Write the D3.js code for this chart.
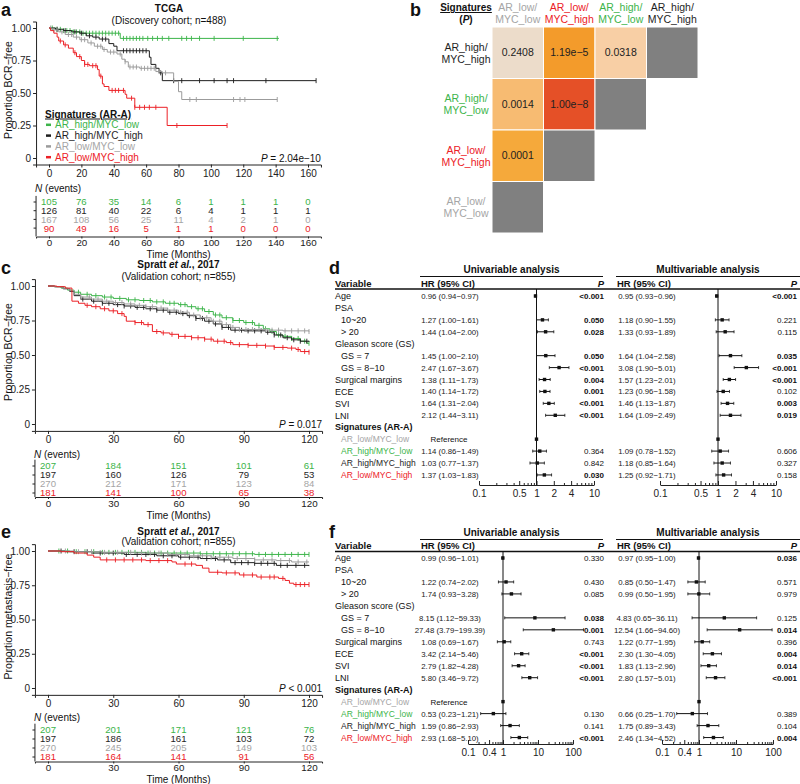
<!DOCTYPE html>
<html><head><meta charset="utf-8">
<script src="https://cdn.jsdelivr.net/npm/d3@7"></script>
<style>body{margin:0;background:#fff} svg{font-family:"Liberation Sans",Arial,Helvetica,sans-serif}</style>
</head><body><svg id="chart" width="800" height="784"></svg>
<script>
// ---------------- DATA ----------------
const kmGroups = ["AR_high/MYC_low","AR_high/MYC_high","AR_low/MYC_low","AR_low/MYC_high"];
const grpColor = {"AR_high/MYC_low":"#3cb44a","AR_high/MYC_high":"#1e1e1e","AR_low/MYC_low":"#9b9b9b","AR_low/MYC_high":"#ec2026"};
const grpText = {"AR_high/MYC_low":"#3cb44a","AR_high/MYC_high":"#1e1e1e","AR_low/MYC_low":"#a5a5a5","AR_low/MYC_high":"#ec2026"};

// Panel a (TCGA) step curves [month, survival]
const aTicks = [0,20,40,60,80,100,120,140,160];
const aGreen = [[0,1],[4,0.99],[9,0.98],[15,0.97],[20,0.96],[44,0.92],[142,0.92]];
const aBlack = [[0,1],[4,0.99],[9,0.98],[14,0.97],[19,0.96],[23,0.94],[27,0.93],[31,0.915],[37,0.88],[40,0.86],[42,0.825],[62,0.775],[63,0.72],[66,0.69],[68,0.655],[70,0.595],[165,0.595]];
const aGray = [[0,1],[2,0.985],[6,0.97],[10,0.95],[15,0.93],[19,0.91],[24,0.885],[28,0.86],[33,0.835],[36,0.815],[42,0.80],[45,0.76],[47,0.74],[49,0.70],[56,0.69],[66,0.665],[70,0.655],[77,0.59],[80,0.51],[82,0.45],[141,0.45]];
const aRed = [[0,1],[1,0.98],[3,0.96],[5,0.93],[6,0.90],[9,0.87],[12,0.845],[15,0.81],[17,0.78],[20,0.75],[22,0.72],[25,0.71],[30,0.68],[31,0.63],[33,0.57],[34,0.55],[37,0.52],[47,0.49],[48,0.46],[53,0.39],[73,0.25],[110,0.25]];
const aGreenC = [2,5,7,9,11,13,15,17,19,21,23,25,27,29,31,33,35,37,39,41,43,46,48,50,52,54,56,58,61,64,67,70,74,82,85,88,93,102,120,141];
const aBlackC = [5,10,16,20,25,29,33,35,46,48,50,52,54,56,58,60,69,77,82,93,102,110,114,134,165];
const aGrayC = [1,3,5,8,12,14,17,20,22,26,30,32,34,38,40,44,47,50,52,54,57,59,61,63,65,68,72,87,91,114,118,121,141];
const aRedC = [7,10,16,19,22,24,27,29,32,39,41,43,46,51,53,56,59,62,66,79,110];
const aRisk = [[105,76,35,14,6,1,1,1,0],[126,81,40,22,6,4,1,1,1],[167,108,56,25,11,4,2,1,0],[90,49,16,5,1,1,0,0,0]];

// Panel c (Spratt, BCR)
const cTicks = [0,30,60,90,120];
const cGreen = [[0,1],[3,0.995],[6,0.985],[9,0.97],[12,0.955],[15,0.94],[20,0.93],[25,0.92],[30,0.91],[36,0.90],[42,0.895],[48,0.885],[54,0.875],[60,0.865],[64,0.85],[68,0.835],[72,0.815],[76,0.79],[80,0.77],[85,0.75],[90,0.735],[95,0.715],[99,0.69],[102,0.67],[105,0.645],[108,0.635],[112,0.62],[116,0.60],[119,0.585],[120,0.585]];
const cBlack = [[0,1],[3,0.995],[7,0.98],[10,0.96],[12,0.93],[15,0.905],[20,0.89],[25,0.875],[30,0.865],[35,0.855],[40,0.845],[45,0.835],[50,0.825],[55,0.81],[60,0.80],[64,0.785],[68,0.765],[72,0.745],[76,0.725],[80,0.70],[84,0.68],[90,0.675],[100,0.665],[104,0.645],[108,0.625],[112,0.61],[116,0.60],[120,0.595]];
const cGray = [[0,1],[3,0.995],[7,0.98],[10,0.965],[12,0.94],[15,0.92],[20,0.905],[25,0.89],[30,0.88],[35,0.87],[40,0.86],[45,0.85],[50,0.84],[55,0.825],[60,0.81],[65,0.79],[70,0.77],[75,0.745],[80,0.72],[84,0.70],[88,0.685],[100,0.68],[108,0.675],[120,0.67]];
const cRed = [[0,1],[4,0.995],[8,0.985],[11,0.89],[14,0.875],[17,0.86],[20,0.85],[24,0.835],[28,0.82],[32,0.80],[35,0.78],[36,0.745],[40,0.735],[44,0.72],[48,0.67],[52,0.66],[56,0.65],[60,0.635],[66,0.625],[72,0.615],[76,0.60],[82,0.59],[85,0.575],[92,0.57],[100,0.565],[104,0.555],[110,0.55],[114,0.54],[116,0.525],[120,0.52]];
const cGreenC = [14,18,22,26,29,33,37,40,44,47,50,53,56,58,61,63,66,69,71,74,77,79,82,85,88,91,94,97,100,103,106,109,112,115,118,120];
const cBlackC = [16,21,25,28,32,35,38,41,44,47,50,53,56,59,62,65,68,71,74,77,80,83,86,89,92,95,98,101,104,107,110,113,116,119];
const cGrayC = [15,19,23,27,31,34,38,42,45,48,52,55,58,61,64,67,70,73,76,79,82,85,88,91,94,97,100,103,106,109,112,115,118,120];
const cRedC = [18,22,26,30,34,40,43,46,50,53,57,60,63,66,69,72,75,78,81,84,88,92,96,100,104,108,112,115,118,120];
const cRisk = [[207,184,151,101,61],[197,160,126,79,53],[270,212,171,123,84],[181,141,100,65,38]];

// Panel e (Spratt, metastasis)
const eGreen = [[0,1],[10,0.995],[25,0.99],[45,0.985],[70,0.98],[95,0.975],[120,0.975]];
const eBlack = [[0,1],[8,0.995],[20,0.985],[35,0.975],[50,0.965],[60,0.955],[70,0.945],[78,0.935],[84,0.915],[95,0.91],[105,0.895],[120,0.89]];
const eGray = [[0,1],[12,0.995],[25,0.99],[40,0.985],[55,0.975],[65,0.965],[75,0.955],[85,0.945],[95,0.935],[105,0.93],[112,0.92],[120,0.92]];
const eRed = [[0,1],[6,0.995],[12,0.985],[18,0.97],[21,0.955],[24,0.935],[45,0.93],[57,0.92],[59,0.905],[68,0.895],[71,0.875],[74,0.845],[80,0.84],[88,0.825],[96,0.81],[106,0.80],[109,0.785],[111,0.765],[113,0.755],[120,0.755]];
const eGreenC = [5,9,13,17,21,25,28,31,34,37,40,43,46,49,52,55,58,61,64,67,70,73,76,79,82,85,88,91,94,97,100,103,106,109,112,115,118,120];
const eBlackC = [6,12,18,24,30,36,41,45,49,53,57,61,65,69,73,77,81,86,89,92,95,98,101,104,107,110,114,118];
const eGrayC = [8,14,20,26,32,38,43,47,51,55,59,63,67,71,75,79,83,87,91,95,99,103,107,111,115,119];
const eRedC = [27,31,35,39,43,47,51,55,63,66,78,82,86,90,94,98,102,104,108,114,116,118,120];
const eRisk = [[207,201,171,121,76],[197,186,161,103,72],[270,245,205,149,103],[181,164,141,91,56]];

// Panel b (pairwise log-rank P)
const hmRows = ["AR_high/MYC_high","AR_high/MYC_low","AR_low/MYC_high","AR_low/MYC_low"];
const hmCols = ["AR_low/MYC_low","AR_low/MYC_high","AR_high/MYC_low","AR_high/MYC_high"];
const hmP = [[0.2408,1.19e-5,0.0318],[0.0014,1.00e-8],[0.0001],[]];

// Forest plots
const fpLabels = ["Age","PSA","10~20","> 20","Gleason score (GS)","GS = 7","GS = 8−10","Surgical margins","ECE","SVI","LNI","Signatures (AR-A)","AR_low/MYC_low","AR_high/MYC_low","AR_high/MYC_high","AR_low/MYC_high"];
const fpIndent = [0,0,1,1,0,1,1,0,0,0,0,0,1,1,1,1];
const dUni = [[0.96,0.94,0.97,"<0.001"],null,[1.27,1.00,1.61,"0.050"],[1.44,1.04,2.00,"0.028"],null,[1.45,1.00,2.10,"0.050"],[2.47,1.67,3.67,"<0.001"],[1.38,1.11,1.73,"0.004"],[1.40,1.14,1.72,"0.001"],[1.64,1.31,2.04,"<0.001"],[2.12,1.44,3.11,"<0.001"],null,"ref",[1.14,0.86,1.49,"0.364"],[1.03,0.77,1.37,"0.842"],[1.37,1.03,1.83,"0.030"]];
const dMulti = [[0.95,0.93,0.96,"<0.001"],null,[1.18,0.90,1.55,"0.221"],[1.33,0.93,1.89,"0.115"],null,[1.64,1.04,2.58,"0.035"],[3.08,1.90,5.01,"<0.001"],[1.57,1.23,2.01,"<0.001"],[1.23,0.96,1.58,"0.102"],[1.46,1.13,1.87,"0.003"],[1.64,1.09,2.49,"0.019"],null,"ref",[1.09,0.78,1.52,"0.606"],[1.18,0.85,1.64,"0.327"],[1.25,0.92,1.71,"0.158"]];
const fUni = [[0.99,0.96,1.01,"0.330"],null,[1.22,0.74,2.02,"0.430"],[1.74,0.93,3.28,"0.085"],null,[8.15,1.12,59.33,"0.038"],[27.48,3.79,199.39,"0.001"],[1.08,0.69,1.67,"0.743"],[3.42,2.14,5.46,"<0.001"],[2.79,1.82,4.28,"<0.001"],[5.80,3.46,9.72,"<0.001"],null,"ref",[0.53,0.23,1.21,"0.130"],[1.59,0.86,2.93,"0.141"],[2.93,1.68,5.10,"<0.001"]];
const fMulti = [[0.97,0.95,1.00,"0.036"],null,[0.85,0.50,1.47,"0.571"],[0.99,0.50,1.95,"0.979"],null,[4.83,0.65,36.11,"0.125"],[12.54,1.66,94.60,"0.014"],[1.22,0.77,1.95,"0.396"],[2.30,1.30,4.05,"0.004"],[1.83,1.13,2.96,"0.014"],[2.80,1.57,5.01,"<0.001"],null,"ref",[0.66,0.25,1.70,"0.389"],[1.75,0.89,3.43,"0.104"],[2.46,1.34,4.52,"0.004"]];
const dTicks = [0.1,0.5,1,2,4,10];
const fTicks = [0.1,0.4,1,10,100];

// ---------------- DRAW ----------------
const svg = d3.select("#chart");
const INK = "#222";

function letter(t,x,y){ svg.append("text").attr("x",x).attr("y",y).attr("font-size",18).attr("font-weight","bold").attr("fill","#111").text(t); }
function styleAxis(sel,fs){ sel.selectAll("path.domain").attr("stroke",INK).attr("stroke-width",1); sel.selectAll(".tick line").attr("stroke",INK); sel.selectAll(".tick text").attr("font-size",fs||10).attr("fill",INK).attr("font-family","'Liberation Sans',Arial,sans-serif"); }
function survAt(data,t){ let s=data[0][1]; for(const d of data){ if(d[0]<=t) s=d[1]; else break;} return s; }

function kmPanel(cfg){
  const g = svg.append("g");
  const x = d3.scaleLinear().domain([0,cfg.tmax]).range([cfg.x0,cfg.x1]);
  const y = d3.scaleLinear().domain([0,1]).range([cfg.yb,cfg.yt]);
  const ex = cfg.tmax*0.05;
  const xa = d3.scaleLinear().domain([-ex,cfg.tmax+ex]).range([x(-ex),x(cfg.tmax+ex)]);
  const ya = d3.scaleLinear().domain([-0.05,1.05]).range([y(-0.05),y(1.05)]);
  // titles
  const t = g.append("text").attr("x",cfg.tx).attr("y",cfg.titleY).attr("text-anchor","middle").attr("font-size",10).attr("font-weight","bold").attr("fill","#111");
  cfg.title.forEach(p=>t.append("tspan").attr("font-style",p[1]?"italic":"normal").text(p[0]));
  g.append("text").attr("x",cfg.tx).attr("y",cfg.subY).attr("text-anchor","middle").attr("font-size",10).attr("fill","#111").text(cfg.sub);
  // axes
  const ax = g.append("g").attr("transform",`translate(0,${y(-0.05)})`).call(d3.axisBottom(xa).tickValues(cfg.ticks).tickSizeOuter(0).tickSize(3).tickPadding(2.5).tickFormat(d3.format("d")));
  styleAxis(ax);
  const ay = g.append("g").attr("transform",`translate(${x(-ex)},0)`).call(d3.axisLeft(ya).tickValues([0,0.25,0.5,0.75,1]).tickSizeOuter(0).tickSize(3).tickPadding(2).tickFormat(d=>d===0?"0":d.toFixed(2)));
  styleAxis(ay);
  const yc = (y(1.05)+y(-0.05))/2 - 3;
  g.append("text").attr("transform",`translate(${cfg.ylx},${yc}) rotate(-90)`).attr("text-anchor","middle").attr("font-size",10.5).attr("fill","#111").text(cfg.ylabel);
  // curves
  const line = d3.line().x(d=>x(d[0])).y(d=>y(d[1])).curve(d3.curveStepAfter);
  cfg.curves.forEach((c,i)=>{
    const col = grpColor[kmGroups[i]];
    g.append("path").attr("d",line(c)).attr("fill","none").attr("stroke",col).attr("stroke-width",1);
    g.selectAll(null).data(cfg.censors[i]).enter().append("line")
      .attr("x1",d=>x(d)).attr("x2",d=>x(d)).attr("y1",d=>y(survAt(c,d))-2.5).attr("y2",d=>y(survAt(c,d))+2.5)
      .attr("stroke",col).attr("stroke-width",0.9);
  });
  // P value
  const pt = g.append("text").attr("x",x(cfg.tmax+ex)).attr("y",y(0)+3.5).attr("text-anchor","end").attr("font-size",10).attr("fill","#111");
  pt.append("tspan").attr("font-style","italic").text("P");
  pt.append("tspan").text(cfg.ptext);
  // legend
  if(cfg.legend){
    const L = cfg.legend;
    g.append("text").attr("x",L.x).attr("y",L.y).attr("font-size",10).attr("font-weight","bold").attr("text-decoration","underline").attr("fill","#111").text("Signatures (AR-A)");
    kmGroups.forEach((k,i)=>{
      const yy = L.y + 10.8*(i+1);
      g.append("line").attr("x1",L.x+1).attr("x2",L.x+6).attr("y1",yy-3.5).attr("y2",yy-3.5).attr("stroke",grpColor[k]).attr("stroke-width",2.5);
      g.append("text").attr("x",L.x+10).attr("y",yy).attr("font-size",10).attr("fill",grpText[k]).text(k);
    });
  }
  // risk table
  const R = cfg.risk;
  const nt = g.append("text").attr("x",x(-ex)-1).attr("y",R.nY).attr("font-size",10).attr("fill","#111");
  nt.append("tspan").attr("font-style","italic").text("N");
  nt.append("tspan").text(" (events)");
  const rowY = i => R.row0 + R.step*i;
  const tableTop = rowY(0) - R.step*0.7, tableBot = R.bottom;
  g.append("line").attr("x1",x(-ex)).attr("x2",x(-ex)).attr("y1",tableTop).attr("y2",tableBot).attr("stroke",INK);
  cfg.riskVals.forEach((row,i)=>{
    g.append("line").attr("x1",x(-ex)-2.5).attr("x2",x(-ex)).attr("y1",rowY(i)).attr("y2",rowY(i)).attr("stroke",INK);
    g.selectAll(null).data(row).enter().append("text")
      .attr("x",(d,j)=>x(cfg.ticks[j])).attr("y",rowY(i)+3.4).attr("text-anchor","middle").attr("font-size",9.6)
      .attr("fill",grpText[kmGroups[i]]).text(d=>d);
  });
  const bx = g.append("g").attr("transform",`translate(0,${R.bottom})`).call(d3.axisBottom(xa).tickValues(cfg.ticks).tickSizeOuter(0).tickSize(2).tickPadding(1).tickFormat(d3.format("d")));
  styleAxis(bx,9.8);
  g.append("text").attr("x",(x(-ex)+x(cfg.tmax+ex))/2).attr("y",R.timeY).attr("text-anchor","middle").attr("font-size",10).attr("fill","#111").text("Time (Months)");
}

letter("a",1,16);
kmPanel({x0:49,x1:308,tmax:160,ticks:aTicks,yt:28,yb:158,tx:169,titleY:12,subY:23.5,
  title:[["TCGA",false]],sub:"(Discovery cohort; n=488)",ylabel:"Proportion BCR−free",ylx:12,
  curves:[aGreen,aBlack,aGray,aRed],censors:[aGreenC,aBlackC,aGrayC,aRedC],ptext:" = 2.04e−10",
  legend:{x:45,y:117.5},
  risk:{nY:192,row0:202,step:8.7,bottom:236.5,timeY:257.5},riskVals:aRisk});

letter("c",1,274);
kmPanel({x0:48,x1:309,tmax:120,ticks:cTicks,yt:286,yb:424,tx:178.5,titleY:268,subY:279.5,
  title:[["Spratt ",false],["et al.",true],[", 2017",false]],sub:"(Validation cohort; n=855)",ylabel:"Proportion BCR−free",ylx:12,
  curves:[cGreen,cBlack,cGray,cRed],censors:[cGreenC,cBlackC,cGrayC,cRedC],ptext:" = 0.017",
  risk:{nY:457.5,row0:466,step:9,bottom:497,timeY:518.5},riskVals:cRisk});

letter("e",1,538);
kmPanel({x0:48,x1:309,tmax:120,ticks:cTicks,yt:551,yb:688,tx:178.5,titleY:534.5,subY:545,
  title:[["Spratt ",false],["et al.",true],[", 2017",false]],sub:"(Validation cohort; n=855)",ylabel:"Proportion metastasis−free",ylx:12,
  curves:[eGreen,eBlack,eGray,eRed],censors:[eGreenC,eBlackC,eGrayC,eRedC],ptext:" < 0.001",
  risk:{nY:721,row0:730,step:9,bottom:761.5,timeY:782.5},riskVals:eRisk});

// ---- Panel b heatmap ----
letter("b",410,16);
(function(){
  const g = svg.append("g");
  const xb = d3.scaleBand().domain(hmCols).range([492,698]);
  const yb = d3.scaleBand().domain(hmRows).range([27,233]);
  const col = d3.scaleLinear().domain([0.62,1.5,2.85,4,4.92,8]).range(["#ecdcca","#f8cfa5","#f7bb72","#f5a93b","#f39b2b","#e55027"]);
  const fmt = p => p>=1e-4 ? p.toFixed(4) : p.toExponential(2).replace("-","−");
  hmRows.forEach((r,i)=>{
    const vals = hmP[i];
    vals.forEach((p,j)=>{
      g.append("rect").attr("x",xb(hmCols[j])).attr("y",yb(r)).attr("width",xb.bandwidth()).attr("height",yb.bandwidth())
        .attr("fill",col(-Math.log10(p))).attr("stroke","#fff").attr("stroke-width",1);
      g.append("text").attr("x",xb(hmCols[j])+xb.bandwidth()/2).attr("y",yb(r)+yb.bandwidth()/2+3.6).attr("text-anchor","middle")
        .attr("font-size",10.5).attr("fill","#222").text(fmt(p));
    });
    const dj = vals.length;
    g.append("rect").attr("x",xb(hmCols[dj])).attr("y",yb(r)).attr("width",xb.bandwidth()).attr("height",yb.bandwidth())
      .attr("fill","#808080").attr("stroke","#fff").attr("stroke-width",1);
    const parts = r.split("/");
    const cy = yb(r)+yb.bandwidth()/2;
    g.append("text").attr("x",466).attr("y",cy-2).attr("text-anchor","middle").attr("font-size",10.5).attr("fill",grpText[r]).text(parts[0]+"/");
    g.append("text").attr("x",466).attr("y",cy+10).attr("text-anchor","middle").attr("font-size",10.5).attr("fill",grpText[r]).text(parts[1]);
  });
  hmCols.forEach(c=>{
    const parts = c.split("/");
    const cx = xb(c)+xb.bandwidth()/2;
    g.append("text").attr("x",cx).attr("y",11).attr("text-anchor","middle").attr("font-size",10.5).attr("fill",grpText[c]).text(parts[0]+"/");
    g.append("text").attr("x",cx).attr("y",23).attr("text-anchor","middle").attr("font-size",10.5).attr("fill",grpText[c]).text(parts[1]);
  });
  g.append("text").attr("x",466).attr("y",11).attr("text-anchor","middle").attr("font-size",10).attr("font-weight","bold").attr("text-decoration","underline").attr("fill","#111").text("Signatures");
  const pp = g.append("text").attr("x",466).attr("y",23).attr("text-anchor","middle").attr("font-size",10).attr("font-weight","bold").attr("fill","#111");
  pp.append("tspan").text("(");
  pp.append("tspan").attr("font-style","italic").text("P");
  pp.append("tspan").text(")");
})();

// ---- Forest plots ----
function pval(s){ return s.startsWith("<") ? 0.0009 : +s; }
function forest(cfg){
  const g = svg.append("g");
  const rowY = i => cfg.row0 + cfg.step*i;
  g.append("text").attr("x",335).attr("y",cfg.headY).attr("font-size",9.5).attr("font-weight","bold").attr("fill","#111").text("Variable");
  g.append("line").attr("x1",335).attr("x2",800).attr("y1",cfg.thickY).attr("y2",cfg.thickY).attr("stroke","#111").attr("stroke-width",1.6);
  fpLabels.forEach((lab,i)=>{
    const isSig = i>=12;
    const color = isSig ? grpText[lab] : "#111";
    g.append("text").attr("x",fpIndent[i]?341:335).attr("y",rowY(i)+3.2).attr("font-size",isSig?8.5:9)
      .attr("font-weight",i===11?"bold":"normal").attr("fill",color).text(lab);
  });
  [cfg.uni,cfg.multi].forEach(S=>{
    g.append("text").attr("x",(S.x0+S.x1)/2).attr("y",cfg.titleY).attr("text-anchor","middle").attr("font-size",10).attr("font-weight","bold").attr("fill","#111").text(S.title);
    g.append("line").attr("x1",S.x0).attr("x2",S.x1).attr("y1",cfg.ulineY).attr("y2",cfg.ulineY).attr("stroke","#111").attr("stroke-width",1);
    g.append("text").attr("x",S.x0+1).attr("y",cfg.headY).attr("font-size",9.5).attr("font-weight","bold").attr("fill","#111").text("HR (95% CI)");
    g.append("text").attr("x",S.pX).attr("y",cfg.headY).attr("text-anchor","end").attr("font-size",9.5).attr("font-weight","bold").attr("font-style","italic").attr("fill","#111").text("P");
    const sx = d3.scaleLog().domain(S.domain).range(S.range);
    g.append("line").attr("x1",sx(1)).attr("x2",sx(1)).attr("y1",cfg.thickY).attr("y2",cfg.axisY).attr("stroke","#111").attr("stroke-width",1);
    const minor = [];
    for(let e=Math.round(Math.log10(S.domain[0])); e<Math.round(Math.log10(S.domain[1])); e++){
      for(let k=1;k<10;k++){ const v=k*Math.pow(10,e); if(!S.ticks.some(t=>Math.abs(t-v)<1e-9)) minor.push(v); }
    }
    const am = g.append("g").attr("transform",`translate(0,${cfg.axisY})`).call(d3.axisBottom(sx).tickValues(minor).tickSize(-2).tickFormat(""));
    am.select("path.domain").remove(); styleAxis(am);
    const a = g.append("g").attr("transform",`translate(0,${cfg.axisY})`).call(d3.axisBottom(sx).tickValues(S.ticks).tickSize(-4).tickSizeOuter(0).tickPadding(5).tickFormat(d=>String(d)));
    styleAxis(a);
    S.data.forEach((d,i)=>{
      if(d===null) return;
      const yy = rowY(i);
      if(d==="ref"){
        g.append("rect").attr("x",sx(1)-1.7).attr("y",yy-1.7).attr("width",3.4).attr("height",3.4).attr("fill","#111");
        if(S.refText) g.append("text").attr("x",S.hrX).attr("y",yy+3).attr("text-anchor","middle").attr("font-size",8).attr("fill","#111").text("Reference");
        return;
      }
      const [hr,lo,hi,p] = d;
      g.append("line").attr("x1",sx(lo)).attr("x2",sx(hi)).attr("y1",yy).attr("y2",yy).attr("stroke","#111").attr("stroke-width",1);
      [lo,hi].forEach(v=>g.append("line").attr("x1",sx(v)).attr("x2",sx(v)).attr("y1",yy-1.5).attr("y2",yy+1.5).attr("stroke","#111").attr("stroke-width",0.8));
      g.append("rect").attr("x",sx(hr)-1.7).attr("y",yy-1.7).attr("width",3.4).attr("height",3.4).attr("fill","#111");
      g.append("text").attr("x",S.hrX+1).attr("y",yy+3).attr("text-anchor","middle").attr("font-size",7.8).attr("fill","#222")
        .text(`${hr.toFixed(2)} (${lo.toFixed(2)}−${hi.toFixed(2)})`);
      g.append("text").attr("x",S.pX).attr("y",yy+3).attr("text-anchor","end").attr("font-size",8)
        .attr("font-weight",pval(p)<=0.05?"bold":"normal").attr("fill","#111").text(p);
    });
  });
}

letter("d",329,274);
forest({titleY:273,ulineY:276.5,headY:286.5,thickY:289,row0:296,step:11.93,axisY:485,
  uni:{title:"Univariable analysis",x0:420,x1:603,hrX:449,pX:604,domain:[0.1,10],range:[479,594],ticks:dTicks,data:dUni,refText:true},
  multi:{title:"Multivariable analysis",x0:616,x1:800,hrX:646,pX:797,domain:[0.1,10],range:[660,776],ticks:dTicks,data:dMulti,refText:false}});

letter("f",329,538);
forest({titleY:535.5,ulineY:539.5,headY:548.5,thickY:551.5,row0:558,step:11.97,axisY:744,
  uni:{title:"Univariable analysis",x0:420,x1:603,hrX:449,pX:604,domain:[0.1,100],range:[468,573],ticks:fTicks,data:fUni,refText:true},
  multi:{title:"Multivariable analysis",x0:616,x1:800,hrX:646,pX:797,domain:[0.1,100],range:[662,773],ticks:fTicks,data:fMulti,refText:false}});
</script></body></html>
